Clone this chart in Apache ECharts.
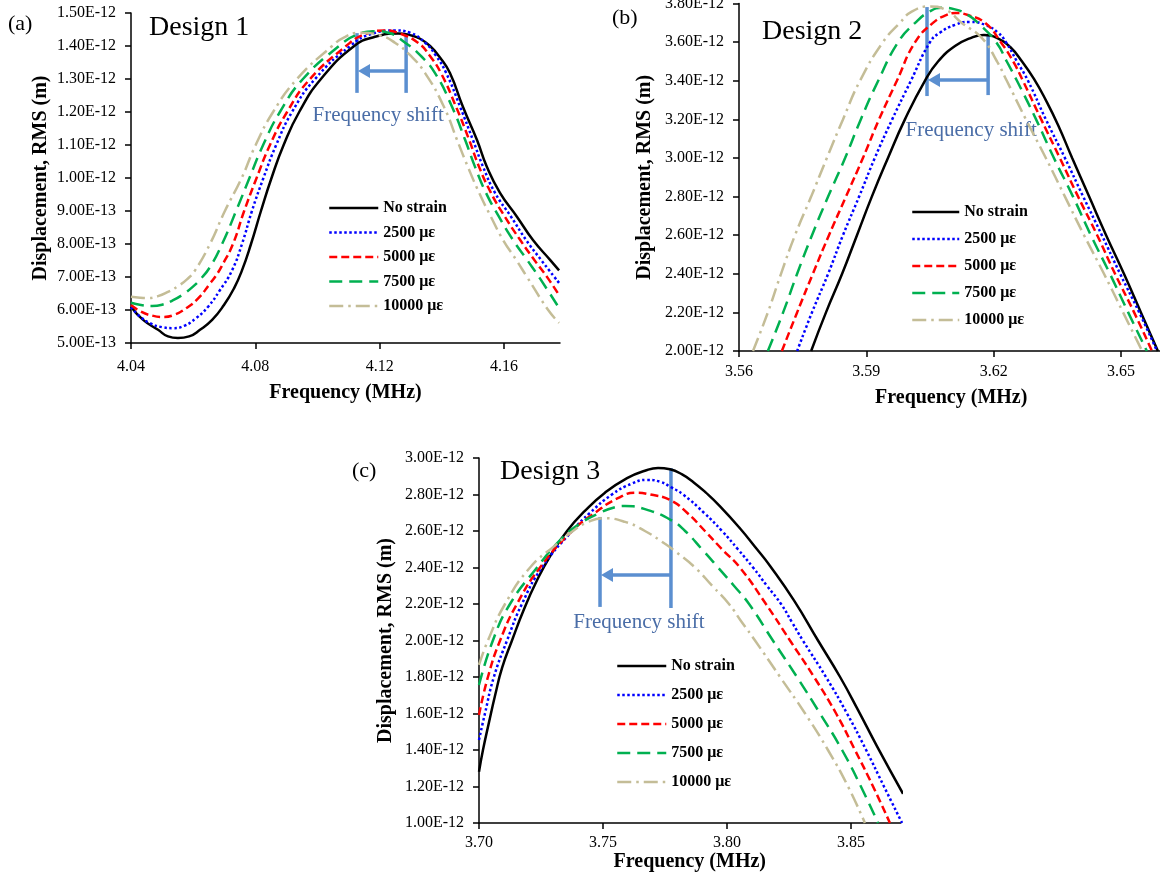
<!DOCTYPE html>
<html>
<head>
<meta charset="utf-8">
<script src="https://cdn.jsdelivr.net/npm/echarts@6/dist/echarts.min.js"></script>
<style>
  html, body { margin: 0; padding: 0; background: #ffffff; }
  #chart { width: 1160px; height: 877px; }
</style>
</head>
<body>
<div id="chart"></div>
<script>
// RMS displacement spectra for three sensor designs under increasing strain.
// Frequencies in MHz, displacement values in units of 1E-12 m.

const strainNames = ['No strain', '2500 με', '5000 με', '7500 με', '10000 με'];

// ---- Design 1 ----
const design1NoStrain = [[4.0400,0.610],[4.0439,0.570],[4.0487,0.540],[4.0519,0.520],[4.0551,0.515],[4.0587,0.520],[4.0622,0.540],[4.0661,0.570],[4.0699,0.615],[4.0731,0.665],[4.0757,0.720],[4.0786,0.800],[4.0818,0.900],[4.0852,1.000],[4.0891,1.100],[4.0941,1.200],[4.1011,1.300],[4.1118,1.400],[4.1185,1.428],[4.1259,1.438],[4.1298,1.433],[4.1330,1.422],[4.1362,1.400],[4.1394,1.365],[4.1426,1.318],[4.1468,1.215],[4.1513,1.115],[4.1545,1.033],[4.1587,0.955],[4.1642,0.882],[4.1693,0.812],[4.1748,0.752],[4.1777,0.720]];
const design1Strain2500 = [[4.0400,0.608],[4.0429,0.580],[4.0461,0.560],[4.0500,0.548],[4.0535,0.545],[4.0571,0.552],[4.0609,0.575],[4.0648,0.610],[4.0686,0.660],[4.0725,0.720],[4.0757,0.800],[4.0789,0.900],[4.0826,1.000],[4.0867,1.100],[4.0918,1.200],[4.0992,1.300],[4.1105,1.400],[4.1175,1.437],[4.1249,1.447],[4.1298,1.440],[4.1346,1.410],[4.1380,1.372],[4.1414,1.318],[4.1459,1.215],[4.1500,1.115],[4.1533,1.033],[4.1571,0.955],[4.1623,0.882],[4.1671,0.812],[4.1719,0.752],[4.1777,0.682]];
const design1Strain5000 = [[4.0400,0.615],[4.0432,0.595],[4.0468,0.583],[4.0503,0.579],[4.0538,0.585],[4.0577,0.605],[4.0616,0.635],[4.0654,0.680],[4.0674,0.705],[4.0693,0.735],[4.0728,0.800],[4.0764,0.900],[4.0804,1.000],[4.0847,1.100],[4.0902,1.200],[4.0976,1.300],[4.1092,1.400],[4.1150,1.435],[4.1217,1.447],[4.1259,1.440],[4.1323,1.410],[4.1360,1.372],[4.1397,1.318],[4.1446,1.215],[4.1488,1.115],[4.1520,1.033],[4.1558,0.955],[4.1603,0.882],[4.1652,0.812],[4.1697,0.752],[4.1742,0.695],[4.1777,0.645]];
const design1Strain7500 = [[4.0400,0.622],[4.0432,0.615],[4.0468,0.612],[4.0500,0.616],[4.0532,0.628],[4.0564,0.645],[4.0596,0.668],[4.0625,0.695],[4.0654,0.730],[4.0693,0.800],[4.0738,0.900],[4.0781,1.000],[4.0825,1.100],[4.0879,1.200],[4.0953,1.300],[4.1069,1.400],[4.1124,1.433],[4.1185,1.445],[4.1227,1.440],[4.1282,1.410],[4.1330,1.372],[4.1378,1.318],[4.1433,1.215],[4.1475,1.115],[4.1507,1.033],[4.1542,0.955],[4.1584,0.882],[4.1629,0.812],[4.1674,0.752],[4.1716,0.695],[4.1777,0.606]];
const design1Strain10000 = [[4.0400,0.640],[4.0429,0.637],[4.0455,0.636],[4.0487,0.642],[4.0519,0.655],[4.0551,0.672],[4.0580,0.693],[4.0606,0.720],[4.0654,0.800],[4.0702,0.900],[4.0756,1.000],[4.0801,1.100],[4.0857,1.200],[4.0934,1.300],[4.1047,1.400],[4.1089,1.428],[4.1137,1.440],[4.1201,1.432],[4.1249,1.410],[4.1298,1.372],[4.1346,1.318],[4.1407,1.215],[4.1449,1.115],[4.1484,1.033],[4.1520,0.955],[4.1558,0.882],[4.1597,0.812],[4.1639,0.752],[4.1674,0.700],[4.1742,0.600],[4.1777,0.561]];

// ---- Design 2 ----
const design2NoStrain = [[3.5770,2.00],[3.5805,2.20],[3.5843,2.40],[3.5878,2.60],[3.5913,2.80],[3.5951,3.00],[3.5991,3.20],[3.6038,3.40],[3.6069,3.50],[3.6109,3.58],[3.6144,3.62],[3.6177,3.637],[3.6210,3.62],[3.6239,3.575],[3.6267,3.50],[3.6295,3.41],[3.6323,3.30],[3.6352,3.17],[3.6385,3.00],[3.6425,2.80],[3.6465,2.60],[3.6507,2.40],[3.6547,2.20],[3.6587,2.00]];
const design2Strain2500 = [[3.5737,2.00],[3.5772,2.20],[3.5810,2.40],[3.5845,2.60],[3.5883,2.80],[3.5920,3.00],[3.5961,3.20],[3.6005,3.40],[3.6050,3.60],[3.6074,3.65],[3.6109,3.69],[3.6144,3.705],[3.6180,3.69],[3.6210,3.65],[3.6229,3.60],[3.6255,3.50],[3.6281,3.40],[3.6323,3.20],[3.6368,3.00],[3.6411,2.80],[3.6455,2.60],[3.6498,2.40],[3.6543,2.20],[3.6585,2.00]];
const design2Strain5000 = [[3.5701,2.00],[3.5737,2.20],[3.5774,2.40],[3.5812,2.60],[3.5852,2.80],[3.5892,3.00],[3.5930,3.20],[3.5972,3.40],[3.6015,3.60],[3.6057,3.70],[3.6088,3.74],[3.6111,3.751],[3.6140,3.74],[3.6180,3.70],[3.6217,3.60],[3.6246,3.50],[3.6269,3.40],[3.6312,3.20],[3.6356,3.00],[3.6399,2.80],[3.6444,2.60],[3.6486,2.40],[3.6531,2.20],[3.6573,2.00]];
const design2Strain7500 = [[3.5668,2.00],[3.5704,2.20],[3.5737,2.40],[3.5772,2.60],[3.5810,2.80],[3.5850,3.00],[3.5887,3.20],[3.5928,3.40],[3.5975,3.60],[3.6015,3.70],[3.6050,3.76],[3.6078,3.778],[3.6109,3.77],[3.6140,3.74],[3.6163,3.70],[3.6206,3.60],[3.6231,3.50],[3.6255,3.40],[3.6300,3.20],[3.6342,3.00],[3.6387,2.80],[3.6429,2.60],[3.6474,2.40],[3.6517,2.20],[3.6561,2.00]];
const design2Strain10000 = [[3.5633,2.00],[3.5668,2.20],[3.5699,2.40],[3.5732,2.60],[3.5770,2.80],[3.5807,3.00],[3.5845,3.20],[3.5885,3.40],[3.5939,3.60],[3.5979,3.70],[3.6008,3.76],[3.6050,3.785],[3.6085,3.77],[3.6125,3.70],[3.6173,3.62],[3.6208,3.50],[3.6231,3.40],[3.6276,3.20],[3.6323,3.00],[3.6368,2.80],[3.6413,2.60],[3.6460,2.40],[3.6505,2.20],[3.6550,2.00]];

// ---- Design 3 ----
const design3NoStrain = [[3.7000,1.281],[3.7016,1.40],[3.7040,1.55],[3.7065,1.70],[3.7093,1.85],[3.7133,2.00],[3.7181,2.17],[3.7234,2.33],[3.7290,2.47],[3.7355,2.60],[3.7427,2.71],[3.7508,2.81],[3.7597,2.89],[3.7669,2.93],[3.7722,2.945],[3.7770,2.938],[3.7819,2.91],[3.7867,2.865],[3.7915,2.81],[3.7972,2.735],[3.8052,2.615],[3.8121,2.50],[3.8173,2.41],[3.8270,2.22],[3.8367,2.00],[3.8456,1.80],[3.8528,1.62],[3.8605,1.42],[3.8710,1.16]];
const design3Strain2500 = [[3.7000,1.455],[3.7024,1.60],[3.7060,1.80],[3.7113,2.00],[3.7173,2.20],[3.7254,2.40],[3.7375,2.60],[3.7448,2.70],[3.7536,2.80],[3.7617,2.86],[3.7677,2.88],[3.7730,2.87],[3.7774,2.84],[3.7823,2.80],[3.7907,2.70],[3.7980,2.60],[3.8044,2.50],[3.8105,2.40],[3.8161,2.30],[3.8218,2.20],[3.8262,2.10],[3.8306,2.00],[3.8399,1.80],[3.8484,1.60],[3.8561,1.40],[3.8633,1.20],[3.8706,1.00]];
const design3Strain5000 = [[3.7000,1.592],[3.7036,1.80],[3.7085,2.00],[3.7153,2.20],[3.7246,2.40],[3.7375,2.60],[3.7468,2.70],[3.7560,2.78],[3.7633,2.81],[3.7690,2.80],[3.7770,2.77],[3.7839,2.70],[3.7911,2.60],[3.7980,2.50],[3.8052,2.40],[3.8157,2.20],[3.8254,2.00],[3.8351,1.80],[3.8440,1.60],[3.8516,1.40],[3.8589,1.20],[3.8657,1.00]];
const design3Strain7500 = [[3.7000,1.756],[3.7056,2.00],[3.7125,2.20],[3.7234,2.40],[3.7327,2.55],[3.7407,2.64],[3.7488,2.70],[3.7548,2.73],[3.7589,2.737],[3.7669,2.72],[3.7774,2.66],[3.7831,2.60],[3.7899,2.50],[3.7964,2.40],[3.8028,2.30],[3.8089,2.20],[3.8185,2.00],[3.8282,1.80],[3.8375,1.60],[3.8464,1.40],[3.8540,1.20],[3.8609,1.00]];
const design3Strain10000 = [[3.7000,1.866],[3.7036,2.00],[3.7105,2.20],[3.7206,2.40],[3.7306,2.52],[3.7379,2.60],[3.7440,2.65],[3.7500,2.67],[3.7589,2.65],[3.7669,2.60],[3.7750,2.53],[3.7790,2.49],[3.7871,2.40],[3.7940,2.30],[3.8008,2.20],[3.8060,2.10],[3.8113,2.00],[3.8214,1.80],[3.8315,1.60],[3.8407,1.40],[3.8488,1.20],[3.8556,1.00]];

// Frequency tick labels per panel
const freqTicks1 = [4.04, 4.08, 4.12, 4.16];
const freqTicks2 = [3.56, 3.59, 3.62, 3.65];
const freqTicks3 = [3.70, 3.75, 3.80, 3.85];

// Peak-shift annotation anchors (data units: MHz, 1E-12 m)
const shift1 = { fromF: 4.1285, toF: 4.1127, fromTop: 1.439, fromBottom: 1.258, toTop: 1.439, toBottom: 1.258, arrowV: 1.324, textF: 4.1195, textV: 1.188 };
const shift2 = { fromF: 3.6187, toF: 3.6043, fromTop: 3.637, fromBottom: 3.326, toTop: 3.782, toBottom: 3.321, arrowV: 3.404, textF: 3.6147, textV: 3.145 };
const shift3 = { fromF: 3.7774, toF: 3.7488, fromTop: 2.945, fromBottom: 2.178, toTop: 2.677, toBottom: 2.184, arrowV: 2.359, textF: 3.7645, textV: 2.101 };

const panels = [
  { curves: [design1NoStrain, design1Strain2500, design1Strain5000, design1Strain7500, design1Strain10000],
    grid: { left: 131, top: 13, width: 429, height: 330 },
    x: { min: 4.04, max: 4.178, ticks: freqTicks1, labelMargin: 16, nameGap: 40 },
    y: { min: 0.5, max: 1.5, interval: 0.1, nameGap: 80 },
    legend: { left: 328, top: 200, itemWidth: 49, itemGap: 8.5 },
    shift: shift1 },
  { curves: [design2NoStrain, design2Strain2500, design2Strain5000, design2Strain7500, design2Strain10000],
    grid: { left: 739, top: 3.6, width: 424.4, height: 347.4 },
    x: { min: 3.56, max: 3.66, ticks: freqTicks2, labelMargin: 13, nameGap: 37 },
    y: { min: 2.0, max: 3.8, interval: 0.2, nameGap: 84 },
    legend: { left: 911, top: 204, itemWidth: 47, itemGap: 11 },
    shift: shift2 },
  { curves: [design3NoStrain, design3Strain2500, design3Strain5000, design3Strain7500, design3Strain10000],
    grid: { left: 479, top: 458, width: 421.6, height: 365 },
    x: { min: 3.70, max: 3.87, ticks: freqTicks3, labelMargin: 12, nameGap: 29 },
    y: { min: 1.0, max: 3.0, interval: 0.2, nameGap: 83 },
    legend: { left: 616, top: 658, itemWidth: 49, itemGap: 13 },
    shift: shift3 }
];

const strainLines = [
  { color: '#000000', type: 'solid' },
  { color: '#0000FF', type: [2.5, 2.5] },
  { color: '#FF0000', type: [8, 4] },
  { color: '#00B050', type: [13, 7] },
  { color: '#C4BD97', type: [14, 5, 2.5, 5] }
];

const SERIF = '"Liberation Serif", "Times New Roman", serif';
const AXIS_BLACK = { color: '#000000', width: 1.5 };
const SHIFT_BLUE = '#5B8FD0';
const SHIFT_TEXT = '#4A6DA7';

const grids = [], xAxes = [], yAxes = [], legends = [], series = [];

panels.forEach((p, i) => {
  grids.push(Object.assign({ containLabel: false, outerBoundsMode: 'none' }, p.grid));

  xAxes.push({
    type: 'value', gridIndex: i, min: p.x.min, max: p.x.max,
    name: 'Frequency (MHz)', nameLocation: 'middle', nameGap: p.x.nameGap,
    nameTextStyle: { fontFamily: SERIF, fontWeight: 'bold', fontSize: 20, color: '#000' },
    axisLine: { show: true, onZero: false, lineStyle: AXIS_BLACK },
    axisTick: { show: true, inside: false, length: 6, lineStyle: AXIS_BLACK, customValues: p.x.ticks },
    axisLabel: { customValues: p.x.ticks, margin: p.x.labelMargin, fontFamily: SERIF, fontSize: 16, color: '#000',
                 formatter: v => v.toFixed(2) },
    splitLine: { show: false }
  });

  yAxes.push({
    type: 'value', gridIndex: i, min: p.y.min, max: p.y.max, interval: p.y.interval,
    name: 'Displacement, RMS (m)', nameLocation: 'middle', nameGap: p.y.nameGap,
    nameTextStyle: { fontFamily: SERIF, fontWeight: 'bold', fontSize: 20, color: '#000' },
    axisLine: { show: true, onZero: false, lineStyle: AXIS_BLACK },
    axisTick: { show: true, inside: false, length: 6, lineStyle: AXIS_BLACK },
    axisLabel: { margin: 15, fontFamily: SERIF, fontSize: 16, color: '#000',
                 formatter: v => (v * 1e-12).toExponential(2).toUpperCase() },
    splitLine: { show: false }
  });

  legends.push({
    orient: 'vertical', left: p.legend.left, top: p.legend.top, padding: 0,
    itemWidth: p.legend.itemWidth, itemHeight: 16, itemGap: p.legend.itemGap,
    selectedMode: false, data: strainNames,
    lineStyle: { width: 2.5 },
    itemStyle: { opacity: 0, borderWidth: 0 },
    textStyle: { fontFamily: SERIF, fontWeight: 'bold', fontSize: 16, lineHeight: 16, color: '#000', padding: [0, 0, 0, 0] }
  });

  p.curves.forEach((curve, k) => {
    series.push({
      type: 'line', name: strainNames[k], xAxisIndex: i, yAxisIndex: i,
      data: curve, symbol: 'none', showSymbol: false, smooth: 0.5, clip: true, silent: true,
      lineStyle: { color: strainLines[k].color, width: 2.5, type: strainLines[k].type },
      itemStyle: { color: strainLines[k].color },
      z: 2 + k
    });
  });
});

const chart = echarts.init(document.getElementById('chart'), null, { renderer: 'canvas' });
chart.setOption({
  backgroundColor: '#ffffff',
  animation: false,
  grid: grids, xAxis: xAxes, yAxis: yAxes, legend: legends, series: series
});

// Panel captions and the peak-shift arrows
function panelText(text, x, y, size) {
  return { type: 'text', x: x, y: y, silent: true,
           style: { text: text, fill: '#000', font: size + 'px ' + SERIF, align: 'left', verticalAlign: 'middle' } };
}

function shiftMarker(i, s) {
  const px = (f, v) => chart.convertToPixel({ xAxisIndex: i, yAxisIndex: i }, [f, v]);
  const fromTop = px(s.fromF, s.fromTop), fromBot = px(s.fromF, s.fromBottom);
  const toTop = px(s.toF, s.toTop), toBot = px(s.toF, s.toBottom);
  const aStart = px(s.fromF, s.arrowV), aTip = px(s.toF, s.arrowV);
  const label = px(s.textF, s.textV);
  const headLen = 12, headHalf = 7;
  const stroke = { stroke: SHIFT_BLUE, lineWidth: 3.5 };
  return [
    { type: 'line', silent: true, shape: { x1: fromTop[0], y1: fromTop[1], x2: fromBot[0], y2: fromBot[1] }, style: stroke },
    { type: 'line', silent: true, shape: { x1: toTop[0], y1: toTop[1], x2: toBot[0], y2: toBot[1] }, style: stroke },
    { type: 'line', silent: true, shape: { x1: aStart[0], y1: aStart[1], x2: aTip[0] + headLen - 1, y2: aTip[1] }, style: stroke },
    { type: 'polygon', silent: true,
      shape: { points: [[aTip[0] + 1, aTip[1]], [aTip[0] + headLen + 1, aTip[1] - headHalf], [aTip[0] + headLen + 1, aTip[1] + headHalf]] },
      style: { fill: SHIFT_BLUE } },
    { type: 'text', silent: true, x: label[0], y: label[1],
      style: { text: 'Frequency shift', fill: SHIFT_TEXT, font: '21px ' + SERIF, align: 'center', verticalAlign: 'middle' } }
  ];
}

const overlays = [
  panelText('(a)', 8, 24, 22), panelText('Design 1', 149, 28, 28),
  panelText('(b)', 612, 18, 22), panelText('Design 2', 762, 32, 28),
  panelText('(c)', 352, 471, 22), panelText('Design 3', 500, 472, 28)
].concat(shiftMarker(0, shift1), shiftMarker(1, shift2), shiftMarker(2, shift3));

chart.setOption({ graphic: { elements: overlays } });
</script>
</body>
</html>
